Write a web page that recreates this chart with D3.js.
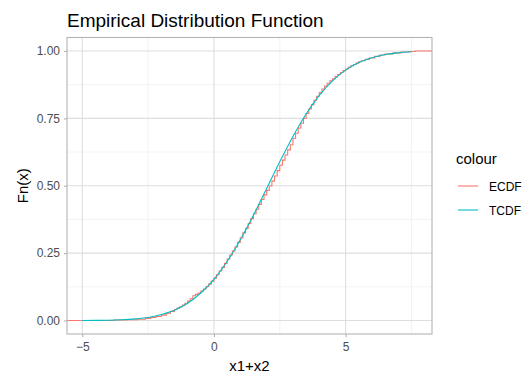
<!DOCTYPE html>
<html>
<head>
<meta charset="utf-8">
<script src="https://cdn.jsdelivr.net/npm/d3@7"></script>
<style>
  body { margin: 0; background: #fff; }
  svg { font-family: "Liberation Sans", Arial, sans-serif; }
</style>
</head>
<body>
<svg id="chart" width="526" height="373"></svg>
<script>
// values (step positions and levels of the ECDF)
const ecdfX = [-5.58, -3.8, -3.3, -2.9, -2.6, -2.4, -2.2, -2.0, -1.8, -1.65,
  -1.5, -1.4, -1.3, -1.2, -1.1, -1.0, -0.9, -0.8, -0.7, -0.6, -0.5, -0.4, -0.3, -0.2, -0.1,
  0.0, 0.1, 0.2, 0.3, 0.4, 0.5, 0.6, 0.7, 0.8, 0.9, 1.0, 1.1, 1.2, 1.3, 1.4, 1.5, 1.6, 1.7, 1.8, 1.9,
  2.0, 2.1, 2.2, 2.3, 2.4, 2.5, 2.6, 2.7, 2.8, 2.9, 3.0, 3.1, 3.2, 3.3, 3.4, 3.5, 3.6, 3.7, 3.8, 3.9,
  4.0, 4.1, 4.2, 4.3, 4.4, 4.5, 4.6, 4.7, 4.8, 4.9, 5.0, 5.1, 5.2, 5.3, 5.4, 5.5,
  5.6, 5.75, 5.9, 6.1, 6.3, 6.5, 6.8, 7.1, 7.4, 7.65, 8.28];
const ecdfY = [0, 0.002, 0.003, 0.005, 0.008, 0.011, 0.015, 0.02, 0.027, 0.034,
  0.041, 0.046, 0.051, 0.057, 0.064, 0.072, 0.081, 0.092, 0.097, 0.102, 0.109, 0.117, 0.126, 0.135, 0.146,
  0.157, 0.170, 0.184, 0.197, 0.212, 0.228, 0.243, 0.258, 0.273, 0.290, 0.307, 0.325, 0.342, 0.360, 0.378, 0.396, 0.413, 0.431, 0.449, 0.466,
  0.483, 0.499, 0.517, 0.536, 0.556, 0.576, 0.595, 0.614, 0.633, 0.652, 0.676, 0.695, 0.714, 0.732, 0.750, 0.768, 0.785, 0.801, 0.817, 0.832,
  0.846, 0.859, 0.870, 0.880, 0.889, 0.897, 0.905, 0.913, 0.920, 0.927, 0.933, 0.939, 0.945, 0.950, 0.955, 0.960,
  0.964, 0.969, 0.974, 0.980, 0.985, 0.989, 0.993, 0.996, 0.998, 1, 1];

const tcdfX = [-5, -4.5, -4, -3.5, -3, -2.5, -2, -1.5, -1, -0.5, 0, 0.5, 1, 1.5, 2, 2.5, 3, 3.5,
  4, 4.5, 5, 5.5, 6, 6.5, 7, 7.5];
const tcdfY = [0.0002, 0.0005, 0.0012, 0.003, 0.006, 0.011, 0.022, 0.038, 0.064, 0.102, 0.153, 0.219, 0.30,
  0.391, 0.49, 0.589, 0.683, 0.766, 0.835, 0.889, 0.929, 0.957, 0.975, 0.987, 0.993, 0.997];

const xTicks = [-5, 0, 5];
const xMinor = [-2.5, 2.5, 7.5];
const yTicks = [0, 0.25, 0.5, 0.75, 1];
const yMinor = [0.125, 0.375, 0.625, 0.875];

const svg = d3.select("#chart");
const pLeft = 67, pRight = 432, pTop = 37.5, pBottom = 334;

const x = d3.scaleLinear().domain([-5.58, 8.28]).range([pLeft, pRight]);
const y = d3.scaleLinear().domain([-0.05, 1.05]).range([pBottom, pTop]);

const grid = svg.append("g");
grid.selectAll(".xm").data(xMinor).enter().append("line")
  .attr("x1", d => x(d)).attr("x2", d => x(d)).attr("y1", pTop).attr("y2", pBottom)
  .attr("stroke", "#ebebeb").attr("stroke-width", 0.6);
grid.selectAll(".ym").data(yMinor).enter().append("line")
  .attr("y1", d => y(d)).attr("y2", d => y(d)).attr("x1", pLeft).attr("x2", pRight)
  .attr("stroke", "#ebebeb").attr("stroke-width", 0.6);
grid.selectAll(".xM").data(xTicks).enter().append("line")
  .attr("x1", d => x(d)).attr("x2", d => x(d)).attr("y1", pTop).attr("y2", pBottom)
  .attr("stroke", "#dedede").attr("stroke-width", 1.1);
grid.selectAll(".yM").data(yTicks).enter().append("line")
  .attr("y1", d => y(d)).attr("y2", d => y(d)).attr("x1", pLeft).attr("x2", pRight)
  .attr("stroke", "#dedede").attr("stroke-width", 1.1);

const lineE = d3.line().x((d, i) => x(ecdfX[i])).y(d => y(d)).curve(d3.curveStepAfter);
const lineT = d3.line().x((d, i) => x(tcdfX[i])).y(d => y(d)).curve(d3.curveMonotoneX);

svg.append("path").attr("d", lineE(ecdfY))
  .attr("fill", "none").attr("stroke", "#F8766D").attr("stroke-width", 1.1);
svg.append("path").attr("d", lineT(tcdfY))
  .attr("fill", "none").attr("stroke", "#00BFC4").attr("stroke-width", 1.1);

svg.append("rect").attr("x", pLeft).attr("y", pTop)
  .attr("width", pRight - pLeft).attr("height", pBottom - pTop)
  .attr("fill", "none").attr("stroke", "#b3b3b3").attr("stroke-width", 1.1);

// axes
const xAxis = svg.append("g").attr("transform", "translate(0," + pBottom + ")")
  .call(d3.axisBottom(x).tickValues(xTicks).tickSize(3).tickPadding(4));
const yAxis = svg.append("g").attr("transform", "translate(" + pLeft + ",0)")
  .call(d3.axisLeft(y).tickValues(yTicks).tickFormat(d3.format(".2f")).tickSize(3).tickPadding(4));
[xAxis, yAxis].forEach(a => {
  a.select(".domain").remove();
  a.selectAll("line").attr("stroke", "#b3b3b3").attr("stroke-width", 1.1);
  a.selectAll("text").attr("fill", "#4d4d4d").style("font-size", "12px");
});
xAxis.selectAll("text").attr("dy", "0.85em");

svg.append("text").attr("x", pLeft).attr("y", 27)
  .style("font-size", "19px").attr("fill", "#000").text("Empirical Distribution Function");
svg.append("text").attr("x", (pLeft + pRight) / 2).attr("y", 371)
  .attr("text-anchor", "middle").style("font-size", "15px").text("x1+x2");
svg.append("text").attr("transform", "translate(28," + ((pTop + pBottom) / 2) + ") rotate(-90)")
  .attr("text-anchor", "middle").style("font-size", "15px").text("Fn(x)");

// legend
const legendNames = ["ECDF", "TCDF"];
const legendColors = ["#F8766D", "#00BFC4"];
svg.append("text").attr("x", 456).attr("y", 164).style("font-size", "15px").text("colour");
const lg = svg.selectAll(".lg").data(legendNames).enter().append("g")
  .attr("transform", (d, i) => "translate(456," + (186 + i * 24) + ")");
lg.append("line").attr("x1", 2).attr("x2", 22).attr("y1", 0).attr("y2", 0)
  .attr("stroke", (d, i) => legendColors[i]).attr("stroke-width", 1.1);
lg.append("text").attr("x", 33).attr("y", 5).style("font-size", "12px").attr("fill", "#000").text(d => d);
</script>
</body>
</html>
